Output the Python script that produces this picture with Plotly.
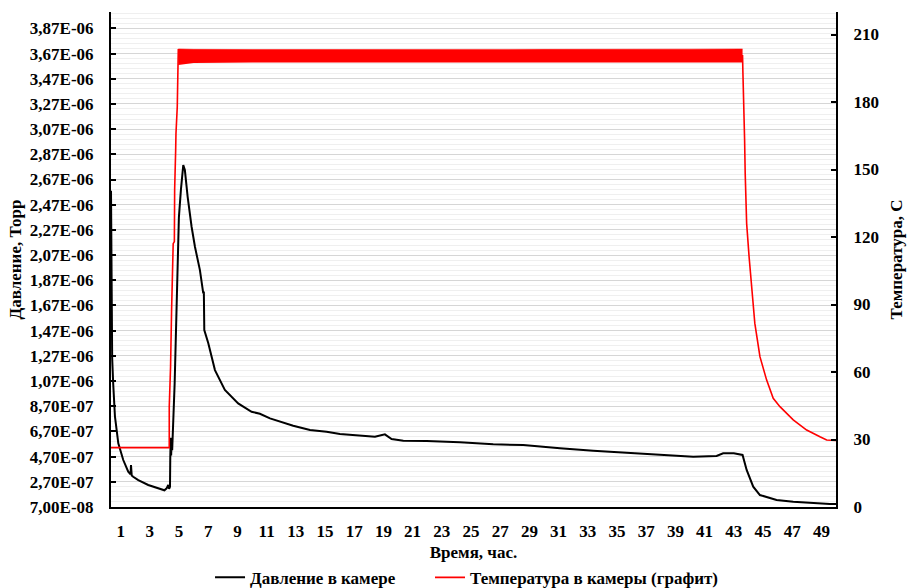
import plotly.graph_objects as go

# ---------------- data ----------------
press_hours = [0.34, 0.36, 0.38, 0.42, 0.49, 0.61, 0.84, 1.18, 1.52, 1.68, 1.71, 1.76, 1.86,
               2.21, 2.89, 3.50, 3.81, 4.00, 4.15, 4.26, 4.32, 4.38, 4.40, 4.43, 4.46, 4.49,
               4.53, 4.57, 4.62, 4.70, 4.76, 4.84, 4.90, 4.95, 4.99, 5.13, 5.29, 5.40, 5.59,
               5.86, 6.09, 6.43, 6.66, 6.70, 6.73, 7.00, 7.46, 8.14, 9.05, 9.97, 10.54,
               11.23, 11.91, 12.82, 13.97, 15.11, 16.02, 17.39, 18.42, 19.10, 19.56, 20.36,
               21.96, 24.24, 26.52, 28.58, 30.18, 31.09, 33.37, 35.66, 37.94, 40.22, 41.82,
               42.27, 43.00, 43.41, 43.60, 43.88, 44.33, 44.79, 45.93, 47.07, 48.44, 49.58,
               50.00]
press_values = [2.58e-6, 1.90e-6, 1.50e-6, 1.25e-6, 1.05e-6, 0.79e-6, 0.576e-6, 0.443e-6,
                0.350e-6, 0.330e-6, 0.403e-6, 0.320e-6, 0.310e-6, 0.284e-6, 0.245e-6,
                0.222e-6, 0.205e-6, 0.203e-6, 0.218e-6, 0.245e-6, 0.215e-6, 0.230e-6,
                0.460e-6, 0.620e-6, 0.480e-6, 0.600e-6, 0.520e-6, 0.740e-6, 0.800e-6,
                1.050e-6, 1.320e-6, 1.850e-6, 2.060e-6, 2.150e-6, 2.370e-6, 2.590e-6,
                2.784e-6, 2.745e-6, 2.533e-6, 2.295e-6, 2.136e-6, 1.951e-6, 1.766e-6,
                1.780e-6, 1.475e-6, 1.372e-6, 1.157e-6, 0.999e-6, 0.893e-6, 0.826e-6,
                0.810e-6, 0.774e-6, 0.747e-6, 0.715e-6, 0.681e-6, 0.668e-6, 0.649e-6,
                0.636e-6, 0.628e-6, 0.647e-6, 0.610e-6, 0.596e-6, 0.594e-6, 0.584e-6,
                0.568e-6, 0.562e-6, 0.549e-6, 0.536e-6, 0.517e-6, 0.501e-6, 0.483e-6,
                0.469e-6, 0.475e-6, 0.496e-6, 0.497e-6, 0.491e-6, 0.483e-6, 0.364e-6,
                0.231e-6, 0.165e-6, 0.126e-6, 0.112e-6, 0.099e-6, 0.094e-6, 0.094e-6]

temp_hours = [0.34, 4.33, 4.33, 4.42, 4.49, 4.60, 4.68, 4.70, 4.77, 4.79, 4.88, 4.95, 5.00,
              43.60, 43.62, 43.69, 43.74, 43.78, 43.88, 44.05, 44.22, 44.44, 44.79, 45.25,
              45.70, 46.16, 47.07, 47.99, 48.90, 49.36, 50.00]
temp_values = [26.4, 26.4, 44.6, 62.4, 87.6, 117.0, 118.0, 141.0, 158.7, 166.0, 178.0, 203.5,
               200.5, 200.5, 194.0, 179.6, 163.0, 148.3, 126.0, 111.0, 96.4, 81.6, 66.8,
               56.4, 48.3, 44.6, 38.7, 34.2, 31.2, 29.8, 29.6]

# envelope of the oscillating temperature plateau
band_hours = [4.95, 6.0, 10.0, 20.0, 30.0, 40.0, 43.6]
band_upper = [203.6, 203.4, 203.3, 203.5, 203.4, 203.5, 203.6]
band_lower = [196.5, 197.3, 197.6, 197.6, 197.7, 197.6, 197.6]

x_ticks = list(range(1, 50, 2))
y_tick_vals = [7e-8 + i * 2e-7 for i in range(20)]
y_tick_text = ["7,00E-08", "2,70E-07", "4,70E-07", "6,70E-07", "8,70E-07", "1,07E-06",
               "1,27E-06", "1,47E-06", "1,67E-06", "1,87E-06", "2,07E-06", "2,27E-06",
               "2,47E-06", "2,67E-06", "2,87E-06", "3,07E-06", "3,27E-06", "3,47E-06",
               "3,67E-06", "3,87E-06"]
y2_ticks = [0, 30, 60, 90, 120, 150, 180, 210]

series_names = ["Давление в камере", "Температура в камеры (графит)"]

# ---------------- figure ----------------
FONT = "Liberation Serif"
PAD = "\u00a0" * 7  # extra spacing between legend entries
fig = go.Figure()

fig.add_trace(go.Scatter(x=press_hours, y=press_values, mode="lines",
                         name=series_names[0] + PAD, line=dict(color="black", width=2),
                         yaxis="y", legendrank=1))
fig.add_trace(go.Scatter(x=temp_hours, y=temp_values, mode="lines",
                         name=series_names[1], line=dict(color="#ff0000", width=1.6),
                         yaxis="y2", legendrank=2))
fig.add_trace(go.Scatter(x=band_hours, y=band_lower, mode="lines", line=dict(width=0, color="#ff0000"),
                         showlegend=False, hoverinfo="skip", yaxis="y2"))
fig.add_trace(go.Scatter(x=band_hours, y=band_upper, mode="lines", line=dict(width=0.5, color="#ff0000"),
                         fill="tonexty", fillcolor="#ff0000",
                         showlegend=False, hoverinfo="skip", yaxis="y2"))

tickfont = dict(family=FONT, size=17, color="black", weight="bold")
titlefont = dict(family=FONT, size=17, color="black", weight="bold")

fig.update_layout(
    width=908, height=588,
    margin=dict(l=111, r=72, t=12, b=81, autoexpand=False),
    paper_bgcolor="white", plot_bgcolor="white",
    showlegend=True,
    legend=dict(orientation="h", x=0.1366, xanchor="left", y=-0.143, yanchor="middle",
                traceorder="normal",
                font=dict(family=FONT, size=17, color="black", weight="bold"),
                itemwidth=30, bgcolor="rgba(0,0,0,0)"),
    xaxis=dict(range=[0.34, 50.0], tickvals=x_ticks, ticktext=[str(t) for t in x_ticks],
               showgrid=False, zeroline=False, showline=True, linecolor="black", linewidth=2,
               ticks="", tickfont=tickfont, ticklabelstandoff=8, automargin=False,
               title=dict(text="Время, час.", font=titlefont, standoff=6)),
    yaxis=dict(range=[7e-8, 4.0e-6], tickvals=y_tick_vals, ticktext=y_tick_text,
               showgrid=True, gridcolor="#d6d6d6", gridwidth=1,
               minor=dict(tick0=7e-8, dtick=4e-8, showgrid=True, gridcolor="#efefef", gridwidth=1,
                          ticks=""),
               zeroline=False, showline=True, linecolor="black", linewidth=2,
               ticks="inside", ticklen=5, tickcolor="black", tickwidth=1.5,
               tickfont=tickfont, ticklabelstandoff=12, automargin=False,
               title=dict(text="Давление, Торр", font=titlefont, standoff=4)),
    yaxis2=dict(range=[0, 220], tickvals=y2_ticks, overlaying="y", side="right",
                showgrid=False, zeroline=False, showline=True, linecolor="black", linewidth=2,
                ticks="inside", ticklen=5, tickcolor="black", tickwidth=1.5,
                tickfont=tickfont, ticklabelstandoff=12, automargin=False,
                title=dict(text="Температура, С", font=titlefont, standoff=12)),
)

fig.write_html("out.html", config={"displayModeBar": False},
               post_script="document.body.style.margin='0';document.body.style.overflow='hidden';")
